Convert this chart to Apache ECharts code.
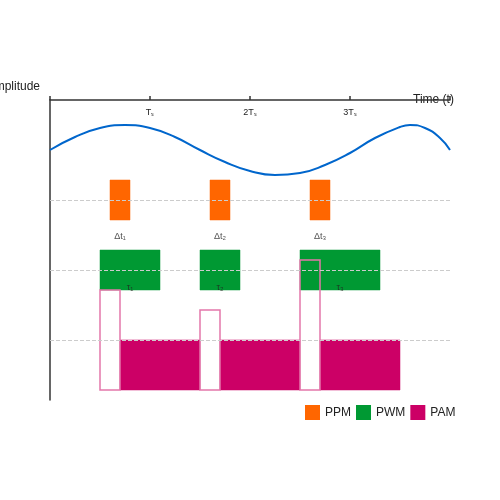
<!DOCTYPE html><html><head><meta charset="utf-8">
<script src="https://cdn.jsdelivr.net/npm/echarts@6/dist/echarts.min.js"></script>
<style>body{margin:0}#c{width:500px;height:500px}</style></head><body><div id="c"></div>
<script>
const tickLabels=['','Tₛ','2Tₛ','3Tₛ',''];
const sigX=[0,0.25,0.5,0.75,1,1.25,1.5,1.75,2,2.25,2.5,2.75,3,3.25,3.5,3.6,3.75,3.9,4];
const sigY=[250,263,272,275,272,263,250,238,229,225,227,235,247,262,273,275,272,262,250];
const ppm=[[0.6,0.8,180,220],[1.6,1.8,180,220],[2.6,2.8,180,220]];
const pwm=[[0.5,1.1,110,150],[1.5,1.9,110,150],[2.5,3.3,110,150]];
const pam=[[0.7,1.5,10,60],[1.7,2.5,10,60],[2.7,3.5,10,60]];
const pamOutline=[[0.5,0.7,10,110],[1.5,1.7,10,90],[2.5,2.7,10,140]];
const levels=[200,130,60];
const dtLabels=[[0.7,163,'Δt₁'],[1.7,163,'Δt₂'],[2.7,163,'Δt₃']];
const tauLabels=[[0.8,112,'τ₁'],[1.7,112,'τ₂'],[2.9,112,'τ₃']];
const sideLabels=[[4.1,244,'s(t)','#0066cc'],[4.1,179,'m_PPM','#ff6600'],[4.1,109,'m_PWM','#009933'],[4.1,39,'m_PAM','#cc0066']];
function rectSeries(name,data,color,outline){
 return {name,type:'custom',data,itemStyle:{color},
  renderItem:(p,api)=>{const a=api.coord([api.value(0),api.value(3)]),b=api.coord([api.value(1),api.value(2)]);
   return {type:'rect',shape:{x:a[0],y:a[1],width:b[0]-a[0],height:b[1]-a[1]},
    style:outline?{fill:'rgba(255,255,255,0)',stroke:'#e377aa',lineWidth:1.5}:{fill:color,stroke:color,strokeOpacity:0.5,lineWidth:1}};}};
}
const chart=echarts.init(document.getElementById('c'));
chart.setOption({animation:false,
 grid:{left:50,right:50,top:100,bottom:100,containLabel:false,outerBoundsMode:'none'},
 legend:{left:300,top:400,itemWidth:15,itemHeight:15,itemGap:5,icon:'rect',textStyle:{fontSize:12,color:'#222'},data:['PPM','PWM','PAM']},
 xAxis:{type:'value',position:'top',min:0,max:4,interval:1,
  axisLine:{onZero:false,lineStyle:{color:'#333',width:1.5}},axisTick:{show:true,length:4,inside:false,lineStyle:{color:'#333',width:1.5}},
  axisLabel:{inside:true,fontSize:9,color:'#222',margin:8,formatter:v=>tickLabels[v]||''},splitLine:{show:false},
  name:'Time (t)',nameLocation:'end',nameGap:-37,nameTextStyle:{fontSize:12,color:'#222',verticalAlign:'middle'}},
 yAxis:{type:'value',min:0,max:300,axisLine:{show:true,onZero:false,lineStyle:{color:'#333',width:1.5}},axisTick:{show:false},axisLabel:{show:false},splitLine:{show:false},
  name:'Amplitude',nameGap:7,nameTextStyle:{fontSize:12,color:'#222',align:'right',padding:[0,10,0,0]}},
 series:[
  {type:'line',data:sigX.map((x,i)=>[x,sigY[i]]),smooth:true,symbol:'none',lineStyle:{color:'#0066cc',width:2},
   markLine:{silent:true,symbol:'none',label:{show:false},lineStyle:{type:'dashed',color:'#ccc',width:1},data:levels.map(v=>({yAxis:v}))}},
  rectSeries('PPM',ppm,'#ff6600'),
  rectSeries('PWM',pwm,'#009933'),
  rectSeries('PAM',pam,'#cc0066'),
  rectSeries('PAMo',pamOutline,'#e377aa',true),
  {type:'scatter',symbolSize:0,data:dtLabels.concat(tauLabels).map(d=>({value:[d[0],d[1]],label:{formatter:d[2]}})),
   label:{show:true,position:'inside',fontSize:9,color:'#222'}},
  {type:'scatter',symbolSize:0,data:sideLabels.map(d=>({value:[d[0],d[1]],label:{formatter:d[2],color:d[3]}})),
   label:{show:true,position:'right',distance:0,fontSize:12}}
 ]});
</script></body></html>
